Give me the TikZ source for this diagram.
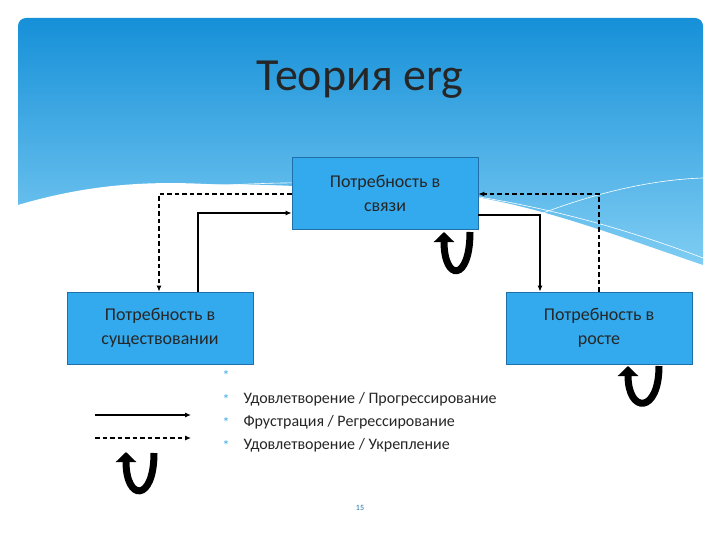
\documentclass[tikz,border=0pt]{standalone}
\usepackage{fontspec}
\setmainfont{Carlito}
\usetikzlibrary{arrows.meta}
\definecolor{boxc}{HTML}{33AAEE}
\definecolor{boxb}{HTML}{1F6FA8}
\definecolor{hdtop}{HTML}{1690D8}
\definecolor{hdbot}{HTML}{7FCDF3}
\tikzset{
  box/.style={draw=boxb,fill=boxc,line width=0.8pt,minimum width=186pt,minimum height=72pt,align=center,font=\fontsize{18}{24}\selectfont,text=black!85},
  conn/.style={line width=1.1pt,-{Latex[length=6pt,width=5pt]}},
  dconn/.style={conn,dash pattern=on 4.5pt off 3pt},
  loop/.style={line width=7pt,-{Triangle[length=10pt,width=20pt]}},
  bul/.style={text=boxc,font=\fontsize{14}{14}\selectfont},
  leg/.style={anchor=west,font=\fontsize{16}{18}\selectfont,text=black!85}
}
\begin{document}
\begin{tikzpicture}[x=1pt,y=-1pt]
\useasboundingbox (0,0) rectangle (720,540);
\fill[white] (0,0) rectangle (720,540);
% header
\shade[top color=hdtop,bottom color=hdbot,rounded corners=8pt]
  (18,205) -- (18,18) -- (703,18) -- (703,265) [sharp corners] -- (703,265)
  .. controls (600,230) and (500,190) .. (400,190) .. controls (300,190) and (200,170) .. (18,205) -- cycle;
\fill[white] (18,205) .. controls (120,175) and (200,180) .. (320,195) .. controls (420,205) and (500,215) .. (560,240) -- (600,258) -- (18,258) -- cycle;
\draw[white,line width=0.6pt] (230,185) .. controls (400,175) and (550,200) .. (703,258);
\draw[white,line width=0.6pt] (470,245) .. controls (560,200) and (640,180) .. (703,178);
\node[font=\fontsize{46}{50}\selectfont,text=black!85] (title) at (360,80) {Теория erg};
% boxes
\node[box] (c) at (385,193.5) {Потребность в\\связи};
\node[box] (l) at (160,328) {Потребность в\\существовании};
\node[box] (r) at (599,328) {Потребность в\\росте};
% connectors
\draw[dconn] (c.west |- 0,194) -| (l.north -| 159,0);
\draw[conn] (l.north -| 198,0) |- (c.west |- 0,213);
\draw[conn] (c.east |- 0,215) -| (r.north -| 540,0);
\draw[dconn] (r.north -| 599,0) |- (c.east |- 0,194);
% loops
\coordinate (c1) at (470,232);
\coordinate (c2) at (444,232);
\draw[loop] (c1) .. controls (470,282) and (444,282) .. (c2);
\coordinate (r1) at (659,366);
\coordinate (r2) at (628,366);
\draw[loop] (r1) .. controls (659,414) and (628,414) .. (r2);
% legend
\coordinate (s1) at (95,415); \coordinate (s2) at (191,415);
\draw[conn] (s1) -- (s2);
\coordinate (d1) at (95,438); \coordinate (d2) at (191,438);
\draw[dconn] (d1) -- (d2);
\coordinate (g1) at (154,453); \coordinate (g2) at (126,452);
\draw[loop] (g1) .. controls (154,502) and (126,502) .. (g2);
\node[bul] (b0) at (226,376) {*};
\node[bul] (b1) at (226,400) {*};
\node[bul] (b2) at (226,423) {*};
\node[bul] (b3) at (226,446) {*};
\node[leg] (t1) at (240,399) {Удовлетворение / Прогрессирование};
\node[leg] (t2) at (240,422) {Фрустрация / Регрессирование};
\node[leg] (t3) at (240,445) {Удовлетворение / Укрепление};
\node[font=\fontsize{8}{8}\selectfont,text=boxb] (pg) at (360,508) {15};
\end{tikzpicture}
\end{document}
